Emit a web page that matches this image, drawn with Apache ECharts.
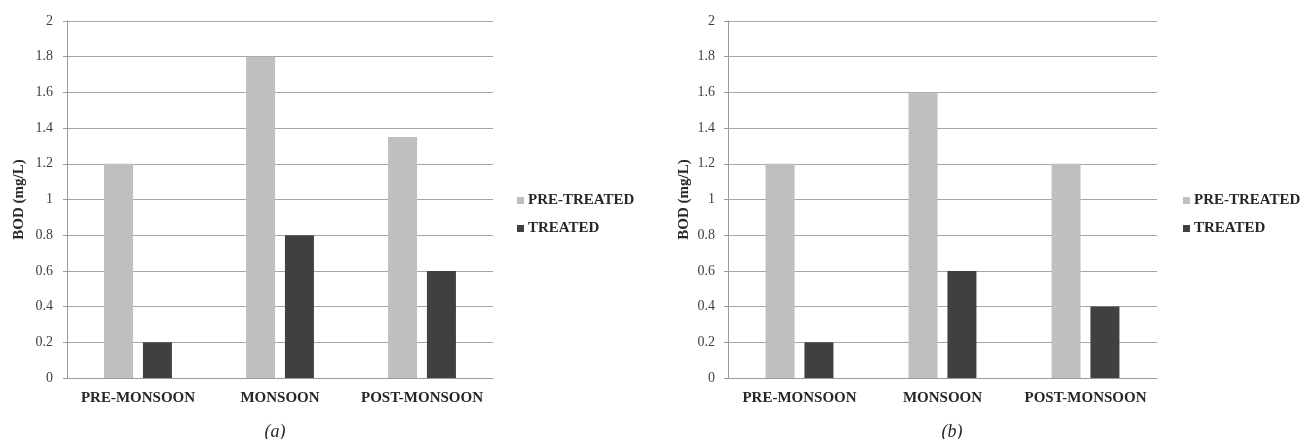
<!DOCTYPE html>
<html>
<head>
<meta charset="utf-8">
<style>
  html, body { margin: 0; padding: 0; background: #ffffff; }
  #chart { width: 1304px; height: 439px; }
</style>
<script src="https://cdn.jsdelivr.net/npm/echarts@6/dist/echarts.min.js"></script>
</head>
<body>
<div id="chart"></div>
<script>
// Seasons on the category axis
const seasons = ['PRE-MONSOON', 'MONSOON', 'POST-MONSOON'];
// Panel (a): BOD in mg/L
const preTreatedA = [1.2, 1.8, 1.35];
const treatedA = [0.2, 0.8, 0.6];
// Panel (b): BOD in mg/L
const preTreatedB = [1.2, 1.6, 1.2];
const treatedB = [0.2, 0.6, 0.4];
// Value axis ticks
const yTicks = [0, 0.2, 0.4, 0.6, 0.8, 1, 1.2, 1.4, 1.6, 1.8, 2];
const seriesNames = ['PRE-TREATED', 'TREATED'];
const captions = ['(a)', '(b)'];

const serif = '"Liberation Serif", "Times New Roman", serif';
const lightGray = '#bfbfbf';
const darkGray = '#404040';
const textColor = '#262626';

function xAxisFor(gridIndex) {
  return {
    type: 'category',
    gridIndex: gridIndex,
    data: seasons,
    axisLine: { lineStyle: { color: '#9a9a9a', width: 1 } },
    axisTick: { show: false },
    axisLabel: {
      interval: 0,
      hideOverlap: false,
      margin: 13,
      fontFamily: serif,
      fontWeight: 'bold',
      fontSize: 15,
      color: textColor
    }
  };
}

function yAxisFor(gridIndex, nameGap, labelMargin) {
  return {
    type: 'value',
    gridIndex: gridIndex,
    min: yTicks[0],
    max: yTicks[yTicks.length - 1],
    interval: 0.2,
    name: 'BOD (mg/L)',
    nameLocation: 'middle',
    nameRotate: 90,
    nameGap: nameGap,
    nameTextStyle: {
      fontFamily: serif,
      fontWeight: 'bold',
      fontSize: 15,
      color: textColor
    },
    axisLine: { show: true, lineStyle: { color: '#9a9a9a', width: 1 } },
    axisTick: { show: true, length: 4, lineStyle: { color: '#9a9a9a' } },
    splitLine: { lineStyle: { color: '#a6a6a6', width: 1 } },
    axisLabel: {
      margin: labelMargin,
      fontFamily: serif,
      fontSize: 14,
      color: '#404040',
      formatter: v => String(Math.round(v * 10) / 10)
    }
  };
}

function barSeries(name, data, color, idx) {
  return {
    name: name,
    type: 'bar',
    xAxisIndex: idx,
    yAxisIndex: idx,
    data: data,
    barWidth: 29,
    barGap: '34%',
    itemStyle: { color: color }
  };
}

function legendFor(left) {
  return {
    left: left,
    top: 188,
    orient: 'vertical',
    itemWidth: 7,
    itemHeight: 7,
    itemGap: 13,
    icon: 'rect',
    data: seriesNames,
    textStyle: {
      fontFamily: serif,
      fontWeight: 'bold',
      fontSize: 15,
      color: textColor,
      padding: [0, 0, 0, -1]
    }
  };
}

const chart = echarts.init(document.getElementById('chart'), null, { renderer: 'canvas' });

chart.setOption({
  animation: false,
  backgroundColor: '#ffffff',
  grid: [
    { left: 67, top: 21, width: 426, height: 357 },
    { left: 728, top: 21, width: 429, height: 357 }
  ],
  xAxis: [xAxisFor(0), xAxisFor(1)],
  yAxis: [yAxisFor(0, 40, 14), yAxisFor(1, 36, 13)],
  legend: [legendFor(512), legendFor(1178)],
  title: [
    {
      text: captions[0], left: 270, top: 418, textAlign: 'center',
      textStyle: { fontFamily: serif, fontStyle: 'italic', fontWeight: 'normal', fontSize: 18, color: textColor }
    },
    {
      text: captions[1], left: 947, top: 418, textAlign: 'center',
      textStyle: { fontFamily: serif, fontStyle: 'italic', fontWeight: 'normal', fontSize: 18, color: textColor }
    }
  ],
  series: [
    barSeries(seriesNames[0], preTreatedA, lightGray, 0),
    barSeries(seriesNames[1], treatedA, darkGray, 0),
    barSeries(seriesNames[0], preTreatedB, lightGray, 1),
    barSeries(seriesNames[1], treatedB, darkGray, 1)
  ]
});
</script>
</body>
</html>
